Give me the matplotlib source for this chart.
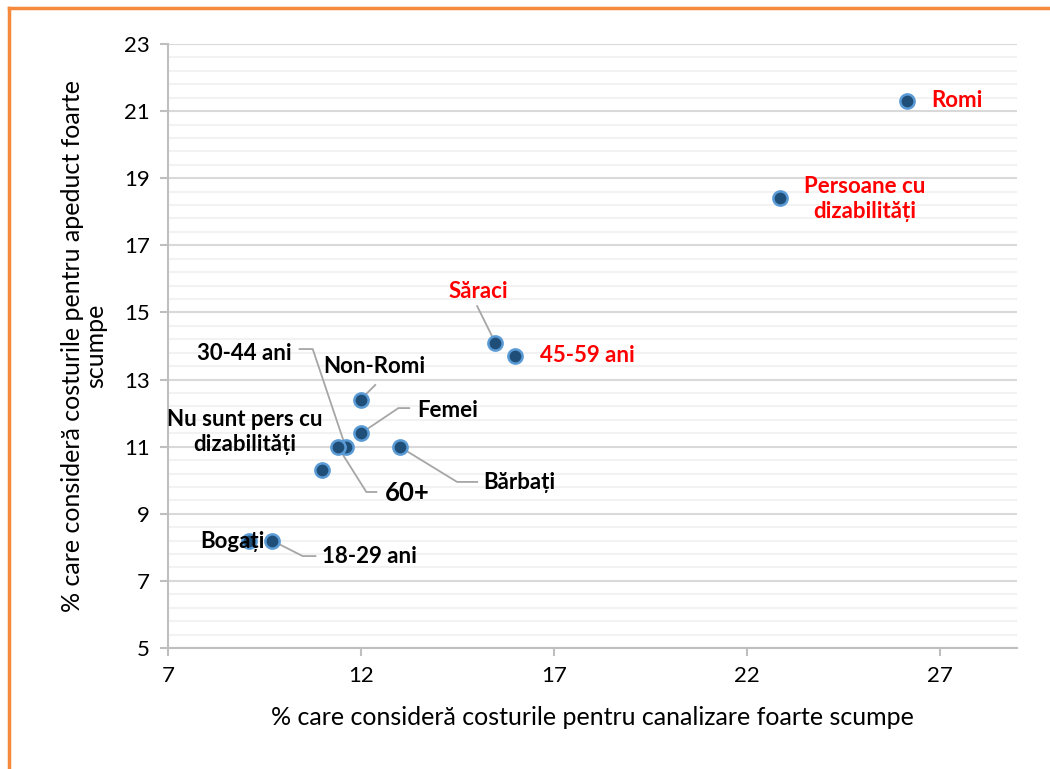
import matplotlib
matplotlib.use('Agg')
import matplotlib.pyplot as plt
from matplotlib.lines import Line2D
import numpy as np

plt.rcParams['font.family'] = ['Lato', 'DejaVu Sans']

# data
groups = ['Romi', 'Persoane cu\ndizabilități', 'Săraci', '45-59 ani', 'Non-Romi',
          'Femei', 'Bărbați', '30-44 ani', '60+', 'Nu sunt pers cu\ndizabilități',
          'Bogați', '18-29 ani']
canalizare = [26.15, 22.87, 15.48, 15.99, 11.99, 12.0, 13.0, 11.6, 11.4, 11.0, 9.1, 9.7]
apeduct = [21.3, 18.4, 14.1, 13.7, 12.4, 11.4, 11.0, 11.0, 11.0, 10.3, 8.2, 8.2]
highlight = ['Romi', 'Persoane cu\ndizabilități', 'Săraci', '45-59 ani']
x_ticks = [7, 12, 17, 22, 27]
y_ticks = [5, 7, 9, 11, 13, 15, 17, 19, 21, 23]

# label placement: (x, y, ha, fontsize, leader path from label towards point)
label_pos = {
    'Romi': (26.78, 21.33, 'left', 16, None),
    'Persoane cu\ndizabilități': (25.05, 18.38, 'center', 16, None),
    'Săraci': (15.05, 15.62, 'center', 16, [(15.01, 15.19)]),
    '45-59 ani': (16.64, 13.73, 'left', 16, None),
    'Non-Romi': (12.35, 13.38, 'center', 16, [(12.37, 12.84)]),
    'Femei': (13.46, 12.09, 'left', 16, [(13.25, 12.15), (12.97, 12.15)]),
    'Bărbați': (15.17, 9.92, 'left', 16, [(15.01, 9.95), (14.49, 9.95)]),
    '30-44 ani': (10.2, 13.79, 'right', 16, [(10.41, 13.91), (10.75, 13.91)]),
    '60+': (12.61, 9.62, 'left', 18.5, [(12.4, 9.65), (12.14, 9.65)]),
    'Nu sunt pers cu\ndizabilități': (8.99, 11.44, 'center', 16, None),
    'Bogați': (9.5, 8.18, 'right', 16, None),
    '18-29 ani': (11.0, 7.72, 'left', 16, [(10.82, 7.74), (10.49, 7.74)]),
}

fig = plt.figure(figsize=(10.5, 7.69), dpi=100)
ax = fig.add_axes([0.16, 0.1573, 0.8086, 0.7855])

ax.set_xlim(7, 29)
ax.set_ylim(5, 23)
ax.set_xticks(x_ticks)
ax.set_yticks(y_ticks)
ax.set_yticks(np.arange(5, 23.01, 0.4), minor=True)
ax.grid(axis='y', which='major', color='#D9D9D9', lw=1.5, zorder=0)
ax.grid(axis='y', which='minor', color='#F2F2F2', lw=1.5, zorder=0)
ax.set_axisbelow(True)
for s in ['top', 'right']:
    ax.spines[s].set_visible(False)
for s in ['left', 'bottom']:
    ax.spines[s].set_color('#BFBFBF')
    ax.spines[s].set_linewidth(1.5)
ax.tick_params(which='major', color='#BFBFBF', width=1.5, length=6, labelsize=16,
               labelcolor='black', pad=7)
ax.tick_params(which='minor', length=0)

# leader lines
for name, xv, yv in zip(groups, canalizare, apeduct):
    path = label_pos[name][4]
    if path:
        xs = [p[0] for p in path] + [xv]
        ys = [p[1] for p in path] + [yv]
        ax.plot(xs, ys, color='#A6A6A6', lw=1.3, zorder=2)

ax.scatter(canalizare, apeduct, s=105, color='#1F4E79', edgecolors='#5B9BD5',
           linewidths=1.8, zorder=3)

for name in groups:
    lx, ly, ha, fs, _ = label_pos[name]
    col = '#FF0000' if name in highlight else 'black'
    ax.text(lx, ly, name, ha=ha, va='center', fontsize=fs, fontweight='bold',
            color=col, zorder=4, linespacing=1.2)

ax.set_xlabel('% care consideră costurile pentru canalizare foarte scumpe',
              fontsize=18, labelpad=14)
ax.set_ylabel('% care consideră costurile pentru apeduct foarte\nscumpe',
              fontsize=18, labelpad=12, linespacing=1.0)

# orange frame
fig.add_artist(Line2D([0.009, 1.0], [0.989, 0.989], color='#F58A3C', lw=2.5,
                      transform=fig.transFigure))
fig.add_artist(Line2D([0.009, 0.009], [0.0, 0.989], color='#F58A3C', lw=2.5,
                      transform=fig.transFigure))

fig.savefig('out.png', dpi=100)
